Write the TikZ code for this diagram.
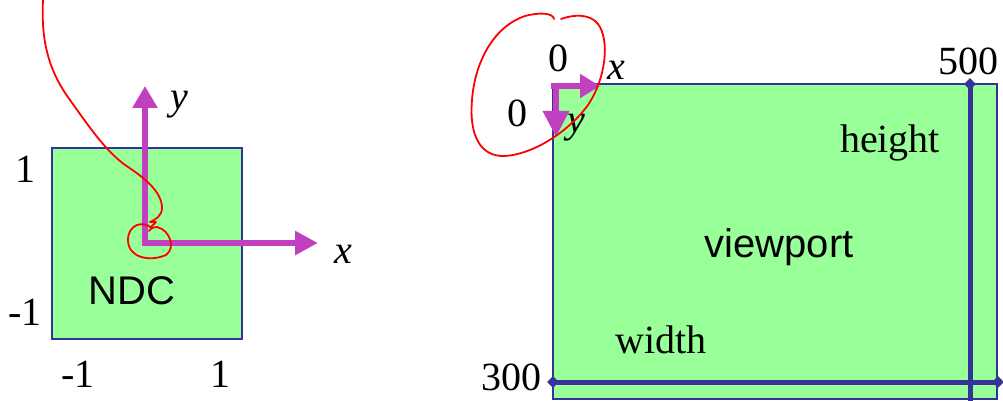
\documentclass[tikz,border=0pt]{standalone}
\usepackage{fontspec}
\setmainfont{Liberation Serif}
\newfontfamily\arialf{Liberation Sans}
\usetikzlibrary{arrows.meta,shapes.geometric}
\definecolor{boxgreen}{HTML}{99FF99}
\definecolor{boxblue}{HTML}{333399}
\definecolor{axmag}{HTML}{C040C0}
\tikzset{
  panel/.style={fill=boxgreen,draw=boxblue,line width=2pt},
  axis/.style={draw=axmag,line width=6pt},
  serifl/.style={font=\fontsize{40}{44}\selectfont,inner sep=0pt,anchor=base},
  itall/.style={font=\fontsize{40}{44}\selectfont\itshape,inner sep=0pt,anchor=base},
  sansl/.style={font=\arialf\fontsize{40}{44}\selectfont,inner sep=0pt,anchor=base},
  dimline/.style={draw=boxblue,line width=5pt},
  endmark/.style={diamond,fill=boxblue,minimum size=12pt,inner sep=0pt},
  ink/.style={draw=red,line width=1.8pt,line cap=round,line join=round}
}
\begin{document}
\begin{tikzpicture}[x=1pt,y=-1pt]
\useasboundingbox (0,0) rectangle (1003,401);
% left NDC square
\draw[panel] (52,148) rectangle (242,339);
\node[sansl] (ndc) at (132,304) {NDC};
\coordinate (o1) at (145,246);
\coordinate (ytip) at (145,86);
\coordinate (o1x) at (142,243);
\coordinate (xtip) at (318,243);
\draw[axis,-{Triangle[length=22pt,width=24pt]}] (o1) -- (ytip);
\draw[axis,-{Triangle[length=23pt,width=23pt]}] (o1x) -- (xtip);
\node[itall] (ylab) at (179,110) {y};
\node[itall] (xlab) at (343,263) {x};
\node[serifl] (l1) at (26,182) {1};
\node[serifl] (lm1) at (25,325) {-1};
\node[serifl] (bm1) at (78,387) {-1};
\node[serifl] (b1) at (220,387) {1};
% right viewport rectangle
\draw[panel] (553,84) rectangle (997,399);
\node[sansl] (vp) at (779,257) {viewport};
\node[serifl] (ht) at (890,152) {height};
\node[serifl] (wd) at (661,353) {width};
\node[serifl] (n500) at (968,75) {500};
\node[serifl] (n300) at (511,390) {300};
\node[serifl] (z1) at (558,72) {0};
\node[serifl] (z2) at (517,127) {0};
\node[itall] (xlab2) at (616,80) {x};
\node[itall] (ylab2) at (576,132) {y};
% dimension lines
\node[endmark] (vt) at (970,84) {};
\coordinate (vb) at (970,401);
\node[endmark] (hl) at (553,382) {};
\node[endmark] (hr) at (998,382) {};
\draw[dimline] (vt.center) -- (vb);
\draw[dimline] (hl.center) -- (hr.center);
% small axes
\coordinate (o2) at (551,86);
\coordinate (x2tip) at (600,86);
\coordinate (o2y) at (556,83);
\coordinate (y2tip) at (556,137);
\draw[axis,-{Triangle[length=20pt,width=23pt]}] (o2) -- (x2tip);
\draw[axis,-{Triangle[length=26pt,width=25pt]}] (o2y) -- (y2tip);
% red annotations
\draw[ink] (43,0) .. controls (41,40) and (48,70) .. (70,100)
  .. controls (90,128) and (105,150) .. (125,165)
  .. controls (145,178) and (162,192) .. (162,208)
  .. controls (162,216) and (155,220) .. (150,222)
  -- (156,222) -- (151,227);
\draw[ink] (152,228) .. controls (142,220) and (128,225) .. (128,240)
  .. controls (128,258) and (150,262) .. (166,255)
  .. controls (176,248) and (170,230) .. (157,227)
  .. controls (153,227) and (150,229) .. (149,231);
\draw[ink] (554,19) .. controls (553,13) and (540,12) .. (525,16)
  .. controls (495,26) and (475,60) .. (472,100)
  .. controls (469,135) and (480,157) .. (505,156)
  .. controls (535,154) and (570,130) .. (588,105)
  .. controls (606,78) and (610,40) .. (598,24)
  .. controls (590,14) and (575,14) .. (561,19);
\end{tikzpicture}
\end{document}
